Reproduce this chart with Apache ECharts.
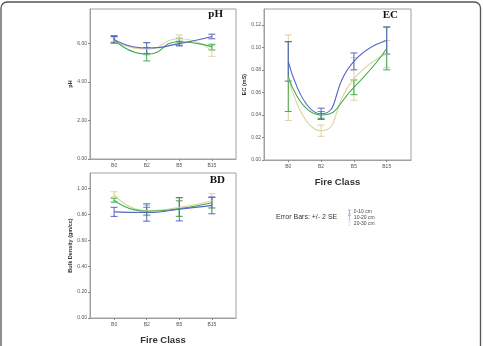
<!DOCTYPE html>
<html><head><meta charset="utf-8">
<script src="https://cdn.jsdelivr.net/npm/echarts@6/dist/echarts.min.js"></script>
<style>html,body{margin:0;padding:0;background:#fff}#c{width:483px;height:346px}</style>
</head><body><div id="c"></div>
<script>
const categories = ['B0','B2','B5','B15'];
const depths = ['0-10 cm','10-20 cm','20-30 cm'];
const colors = ['#5a64c4','#3fae4c','#dcd49c'];

const phTicks = [0, 2, 4, 6];
const ecTicks = [0, 0.02, 0.04, 0.06, 0.08, 0.10, 0.12];
const bdTicks = [0, 0.2, 0.4, 0.6, 0.8, 1.0];

// pH: means and error half-widths (2 SE)
const phMean010 = [6.22, 5.77, 6.00, 6.37];
const phErr010  = [0.15, 0.28, 0.12, 0.12];
const phMean1020 = [6.22, 5.45, 6.10, 5.82];
const phErr1020  = [0.20, 0.35, 0.18, 0.15];
const phMean2030 = [6.15, 5.72, 6.25, 5.62];
const phErr2030  = [0.15, 0.32, 0.20, 0.28];

// EC (mS)
const ecMean010 = [0.0875, 0.041, 0.0875, 0.106];
const ecErr010  = [0.0175, 0.005, 0.0075, 0.012];
const ecMean1020 = [0.074, 0.040, 0.0645, 0.099];
const ecErr1020  = [0.031, 0.003, 0.0065, 0.019];
const ecMean2030 = [0.073, 0.026, 0.072, 0.094];
const ecErr2030  = [0.038, 0.005, 0.019, 0.012];

// Bulk density (gm/cc)
const bdMean010 = [0.82, 0.815, 0.84, 0.87];
const bdErr010  = [0.035, 0.067, 0.09, 0.065];
const bdMean1020 = [0.91, 0.825, 0.845, 0.89];
const bdErr1020  = [0.015, 0.03, 0.06, 0.04];
const bdMean2030 = [0.955, 0.83, 0.855, 0.905];
const bdErr2030  = [0.02, 0.04, 0.07, 0.055];

const panels = [
  {means:[phMean010, phMean1020, phMean2030], errs:[phErr010, phErr1020, phErr2030]},
  {means:[ecMean010, ecMean1020, ecMean2030], errs:[ecErr010, ecErr1020, ecErr2030]},
  {means:[bdMean010, bdMean1020, bdMean2030], errs:[bdErr010, bdErr1020, bdErr2030]}
];

const frame = '#a0a0a0';
const font = 'Liberation Sans, Arial, sans-serif';
const catIdx = categories.map((c,i)=>i);

function xAxis(gi, withName){
  return {
    type:'value', gridIndex:gi, min:-0.74, max:3.74, position:'bottom',
    splitLine:{show:false},
    axisLine:{show:true, onZero:false, lineStyle:{color:frame}},
    axisTick:{show:true, customValues:catIdx, length:2, lineStyle:{color:'#888'}},
    axisLabel:{customValues:catIdx, formatter:v=>categories[Math.round(v)], fontSize:5, color:'#555', margin:4, fontFamily:font},
    name: withName ? 'Fire Class' : '',
    nameLocation:'middle', nameGap:17,
    nameTextStyle:{fontSize:9.5, fontWeight:'bold', color:'#333', fontFamily:font}
  };
}
function yAxis(gi, max, ticks, name, gap){
  return {
    type:'value', gridIndex:gi, min:0, max:max, position:'left',
    splitLine:{show:false},
    axisLine:{show:true, onZero:false, lineStyle:{color:frame}},
    axisTick:{show:true, customValues:ticks, length:2, lineStyle:{color:'#888'}},
    axisLabel:{customValues:ticks, formatter:v=>v.toFixed(2), fontSize:5, color:'#555', margin:3, fontFamily:font},
    name:name, nameLocation:'middle', nameRotate:90, nameGap:gap,
    nameTextStyle:{fontSize:5.5, fontWeight:'bold', color:'#333', fontFamily:font}
  };
}

function renderErr(params, api){
  const x = api.value(0), lo = api.value(1), hi = api.value(2);
  const a = api.coord([x, lo]), b = api.coord([x, hi]);
  const w = 3.5;
  const st = {stroke: api.visual('color'), lineWidth: 1};
  return {type:'group', children:[
    {type:'line', shape:{x1:a[0], y1:a[1], x2:b[0], y2:b[1]}, style:st},
    {type:'line', shape:{x1:a[0]-w, y1:a[1], x2:a[0]+w, y2:a[1]}, style:st},
    {type:'line', shape:{x1:b[0]-w, y1:b[1], x2:b[0]+w, y2:b[1]}, style:st}
  ]};
}

const series = [];
panels.forEach((p, gi) => {
  [2,1,0].forEach(d => {
    const m = p.means[d], e = p.errs[d];
    series.push({
      type:'custom', name:depths[d], xAxisIndex:gi, yAxisIndex:gi,
      renderItem:renderErr, itemStyle:{color:colors[d]},
      encode:{x:0, y:[1,2]},
      data: m.map((v,i)=>[i, v - e[i], v + e[i]]), z:2
    });
    series.push({
      type:'line', name:depths[d], xAxisIndex:gi, yAxisIndex:gi,
      smooth:0.6, symbol:'none', lineStyle:{color:colors[d], width:1.1},
      itemStyle:{color:colors[d]},
      data: m.map((v,i)=>[i, v]), z:3
    });
  });
});

const titleStyle = {fontSize:11, fontWeight:'bold', color:'#111', fontFamily:'Liberation Serif, Times New Roman, serif'};
const chart = echarts.init(document.getElementById('c'), null, {renderer:'canvas'});
chart.setOption({
  animation:false,
  backgroundColor:'#fff',
  title:[
    {text:'pH', right:260, top:9, textStyle:titleStyle, padding:0},
    {text:'EC', right:85, top:10, textStyle:titleStyle, padding:0},
    {text:'BD', right:258, top:175, textStyle:titleStyle, padding:0},
    {text:'Error Bars: +/- 2 SE', left:276, top:213.5, padding:0,
     textStyle:{fontSize:7, fontWeight:'normal', color:'#333', fontFamily:font}}
  ],
  legend:{
    data:depths, orient:'vertical', left:348, top:209.5, padding:0,
    itemWidth:3, itemHeight:4.5, itemGap:0.6,
    icon:'path://M0,0h6v1h-2.5v8h2.5v1h-6v-1h2.5v-8h-2.5z',
    textStyle:{fontSize:5, color:'#444', fontFamily:font, padding:[0,0,0,-2]},
    selectedMode:false
  },
  grid:[
    {left:90, top:9, width:146, height:150, show:true, borderColor:frame, borderWidth:1},
    {left:264, top:9, width:147, height:151, show:true, borderColor:frame, borderWidth:1},
    {left:90, top:173, width:146, height:150, show:true, borderColor:frame, borderWidth:1}
  ],
  xAxis:[xAxis(0,false), xAxis(1,true), xAxis(2,true)],
  yAxis:[
    yAxis(0, 7.8, phTicks, 'pH', 16),
    yAxis(1, 0.134, ecTicks, 'EC (mS)', 15),
    yAxis(2, 1.12, bdTicks, 'Bulk Density (gm/cc)', 16)
  ],
  series:series,
  graphic:[
    {type:'rect', shape:{x:1, y:2, width:479.5, height:370, r:6}, silent:true,
     style:{fill:'none', stroke:'#555', lineWidth:1.3}}
  ]
});
</script></body></html>
